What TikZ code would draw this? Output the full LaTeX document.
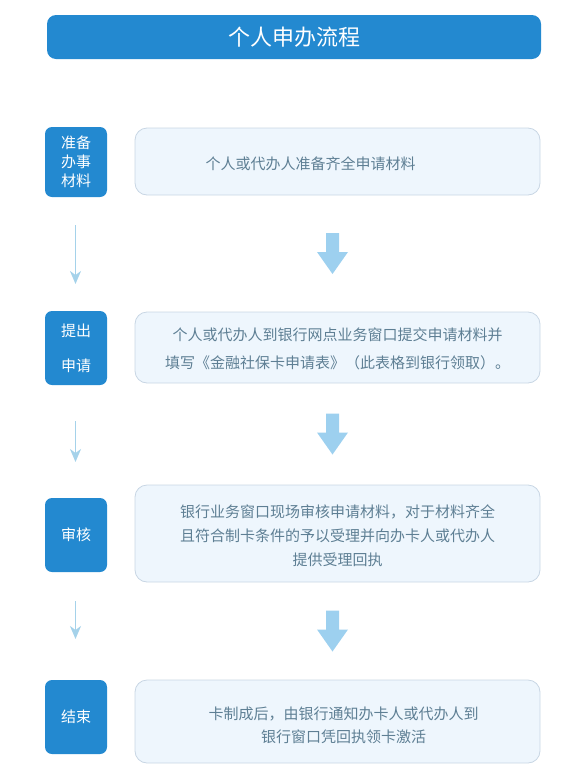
\documentclass[tikz,border=0pt]{standalone}
\usepackage{fontspec}
\usepackage{tikz}
\usetikzlibrary{positioning,arrows.meta,calc}
\newfontfamily\cjk{Noto Sans CJK SC}
\definecolor{bandblue}{RGB}{35,137,208}
\definecolor{paleblue}{RGB}{238,246,253}
\definecolor{edgegray}{RGB}{200,214,228}
\definecolor{arrowblue}{RGB}{157,208,239}
\definecolor{thinblue}{RGB}{165,210,234}
\definecolor{bodytext}{RGB}{94,127,148}

\begin{document}
\begin{tikzpicture}[
  x=1pt, y=-1pt,
  headbar/.style={fill=bandblue, rounded corners=9pt, minimum width=494pt, minimum height=44pt,
    text=white, font={\cjk\fontsize{22}{26}\selectfont}},
  stepbox/.style={fill=bandblue, rounded corners=7pt, minimum width=62pt, minimum height=74pt,
    text=white, align=center, inner sep=0pt, font={\cjk\fontsize{15}{19}\selectfont}},
  infobox/.style={draw=edgegray, line width=0.8pt, fill=paleblue, rounded corners=12pt,
    minimum width=405pt},
  infotext/.style={text=bodytext, align=center, inner sep=0pt, font={\cjk\fontsize{15}{24}\selectfont}},
  thinarr/.style={draw=thinblue, line width=1.6pt, -{Stealth[length=13pt, width=11pt, inset=4pt]}},
  bigdown/.pic={\fill[arrowblue] (-6.5,-20.5) -- (6.5,-20.5) -- (6.5,-1.5) -- (15.5,-1.5) -- (0,20.5)
    -- (-15.5,-1.5) -- (-6.5,-1.5) -- cycle;}
]
\useasboundingbox (0,0) rectangle (578,766);

% title
\node[headbar] (head) at (294,37) {个人申办流程};

% steps
\node[stepbox, minimum height=70pt] (s1) at (76,162) {准备\\办事\\材料};
\node[stepbox] (s2) at (76,348) {提出\\[16pt]申请};
\node[stepbox] (s3) at (76,535) {审核};
\node[stepbox] (s4) at (76,717) {结束};

% content boxes
\node[infobox, minimum height=67pt] (b1) at (337.5,161.5) {};
\node[infobox, minimum height=71pt] (b2) at (337.5,347.5) {};
\node[infobox, minimum height=97pt] (b3) at (337.5,533.5) {};
\node[infobox, minimum height=83pt] (b4) at (337.5,721.5) {};

\node[infotext] (t1) at ([xshift=-27pt, yshift=-2pt]b1.center) {个人或代办人准备齐全申请材料};
\node[infotext, font={\cjk\fontsize{15}{28}\selectfont}] (t2) at ([yshift=-1pt]b2.center)
  {个人或代办人到银行网点业务窗口提交申请材料并\\填写《金融社保卡申请表》（此表格到银行领取）。};
\node[infotext] (t3) at ([yshift=-2pt]b3.center)
  {银行业务窗口现场审核申请材料，对于材料齐全\\且符合制卡条件的予以受理并向办卡人或代办人\\提供受理回执};
\node[infotext, font={\cjk\fontsize{15}{23}\selectfont}] (t4) at ([xshift=6pt, yshift=-4pt]b4.center)
  {卡制成后，由银行通知办卡人或代办人到\\银行窗口凭回执领卡激活};

% thin arrows
\coordinate (a1) at (75.5,225);
\coordinate (a2) at (75.5,284);
\coordinate (a3) at (75.5,421);
\coordinate (a4) at (75.5,462);
\coordinate (a5) at (75.5,601);
\coordinate (a6) at (75.5,639);
\draw[thinarr] (a1) -- (a2);
\draw[thinarr] (a3) -- (a4);
\draw[thinarr] (a5) -- (a6);

% big arrows
\path ([xshift=-5pt]$(b1.south)!0.5!(b2.north)$) pic {bigdown};
\path ([xshift=-5pt]$(b2.south)!0.5!(b3.north)$) pic {bigdown};
\path ([xshift=-5pt]$(b3.south)!0.5!(b4.north)$) pic {bigdown};
\end{tikzpicture}
\end{document}
